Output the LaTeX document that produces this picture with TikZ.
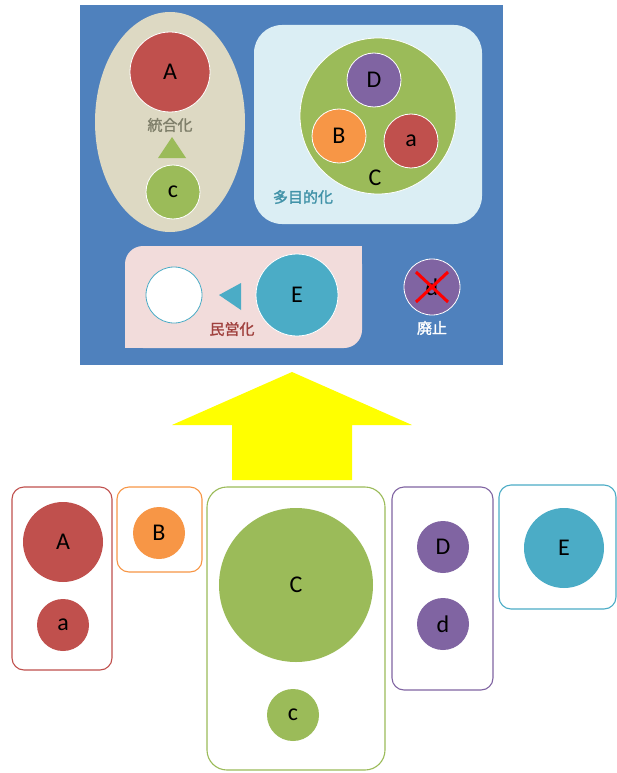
\documentclass[tikz,border=0pt]{standalone}
\usepackage{fontspec}
\setmainfont{Carlito}
\newfontfamily\jpfont{Noto Sans CJK JP}[FakeBold=1.5]
\begin{document}
\definecolor{cred}{HTML}{C0504D}
\definecolor{corange}{HTML}{F79646}
\definecolor{cgreen}{HTML}{9BBB59}
\definecolor{cpurple}{HTML}{8064A2}
\definecolor{cteal}{HTML}{4BACC6}
\definecolor{cblue}{HTML}{4F81BD}
\definecolor{cbeige}{HTML}{DDD9C3}
\definecolor{clight}{HTML}{DBEEF4}
\definecolor{cpink}{HTML}{F2DCDB}
\definecolor{cdarkred}{HTML}{A0413E}
\definecolor{cjpgray}{HTML}{7F7F6A}
\definecolor{cyell}{HTML}{FFFF00}
\begin{tikzpicture}[x=1pt,y=-1pt,
  ball/.style={circle,inner sep=0pt,minimum size=#1,font=\fontsize{24}{24}\selectfont,text=black},
  tball/.style={ball=#1,draw=white,line width=0.8pt},
  box/.style={draw=#1,line width=1.1pt,rounded corners=12pt,fill=white},
  jp/.style={font=\jpfont\fontsize{15}{16}\selectfont}]
\useasboundingbox (0,0) rectangle (617,773);
% blue panel
\fill[cblue] (80,5) rectangle (503,365);
% beige ellipse
\fill[cbeige] (170,122) ellipse [x radius=75pt, y radius=110pt];
\node[tball=80pt,fill=cred] (A1) at (170,72) {A};
\node[jp,text=cjpgray] (l1) at (170,125) {統合化};
\fill[cgreen] (172,137) -- (186,158) -- (158,158) -- cycle;
\node[tball=54pt,fill=cgreen] (c1) at (173,192) {c};
% light blue
\fill[clight,rounded corners=28pt] (254,25) rectangle (482,224);
\node[tball=156pt,fill=cgreen] (C1) at (378,116) {};
\node[tball=54pt,fill=cpurple] (D1) at (374,80) {D};
\node[tball=54pt,fill=corange] (B1) at (339,136) {B};
\node[tball=54pt,fill=cred] (a1) at (411,141) {a};
\node[font=\fontsize{24}{24}\selectfont] (Cl) at (375,178) {C};
\node[jp,text=cteal!85!black] (l2) at (303,197) {多目的化};
% pink
\fill[cpink,rounded corners=18pt] (125,246) rectangle (362,348);
\fill[cpink] (220,246) rectangle (362,300);
\fill[cpink] (125,300) rectangle (280,348);
\node[circle,inner sep=0pt,minimum size=56pt,fill=white,draw=cteal,line width=0.8pt] (W) at (174,295) {};
\fill[cteal] (219,295) -- (241,283) -- (241,310) -- cycle;
\node[tball=82pt,fill=cteal] (E1) at (297,295) {E};
\node[jp,text=cdarkred] (l3) at (232,329) {民営化};
% d abolished
\node[tball=56pt,fill=cpurple] (d1) at (432,287) {d};
\draw[red,line width=3pt] (416,272) -- (448,302) (448,272) -- (416,302);
\node[jp,text=white] (l4) at (432,328) {廃止};
% yellow arrow
\fill[cyell] (292,372) -- (412,425) -- (352,425) -- (352,480) -- (232,480) -- (232,425) -- (172,425) -- cycle;
% bottom boxes
\draw[box=cred] (12,487) rectangle (112,670);
\node[ball=80pt,fill=cred] (A2) at (63,542) {A};
\node[ball=52pt,fill=cred] (a2) at (63,625) {a};
\draw[box=corange] (117,487) rectangle (202,572);
\node[ball=52pt,fill=corange] (B2) at (159,533) {B};
\draw[box=cgreen,rounded corners=20pt] (207,487) rectangle (385,770);
\node[ball=154pt,fill=cgreen] (C2) at (296,585) {C};
\node[ball=52pt,fill=cgreen] (c2) at (293,715) {c};
\draw[box=cpurple] (392,487) rectangle (493,690);
\node[ball=52pt,fill=cpurple] (D2) at (443,547) {D};
\node[ball=52pt,fill=cpurple] (d2) at (443,624) {d};
\draw[box=cteal] (499,485) rectangle (616,609);
\node[ball=80pt,fill=cteal] (E2) at (564,548) {E};
\end{tikzpicture}
\end{document}
